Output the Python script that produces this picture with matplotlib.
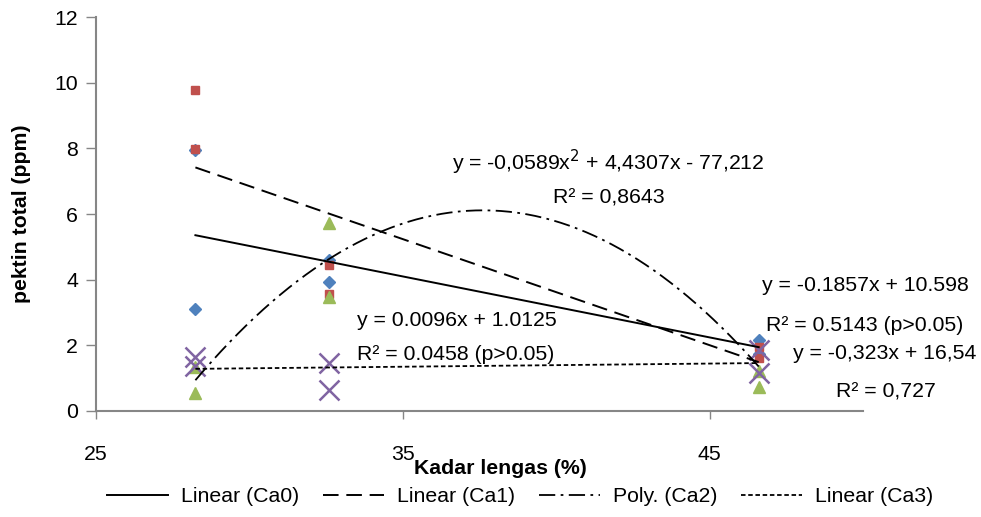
import matplotlib
matplotlib.use("Agg")
import matplotlib.pyplot as plt
import numpy as np

plt.rcParams['font.family'] = ['Liberation Sans', 'DejaVu Sans']

# ---- data ----
x_ca = [28.24, 28.24, 32.6, 32.6, 46.6, 46.6]
ca0 = [7.95, 3.10, 4.60, 3.93, 2.16, 1.75]
ca1 = [9.78, 7.98, 4.45, 3.55, 1.95, 1.60]
ca2 = [0.55, 1.34, 5.73, 3.47, 1.22, 0.73]
ca3 = [1.65, 1.37, 1.46, 0.64, 1.85, 1.15]

# trendline coefficients as printed on the chart (highest power first)
coef_ca0 = [-0.1857, 10.598]
coef_ca1 = [-0.323, 16.54]
coef_ca2 = [-0.0589, 4.4307, -77.212]
coef_ca3 = [0.0096, 1.0125]

legend_labels = ['Linear (Ca0)', 'Linear (Ca1)', 'Poly. (Ca2)', 'Linear (Ca3)']
x_ticks = [25, 35, 45]
y_ticks = [0, 2, 4, 6, 8, 10, 12]

eq_texts = [
    ('y = -0,0589x$^2$ + 4,4307x - 77,212', 36.60, 7.58),
    ('R² = 0,8643', 39.90, 6.49),
    ('y = 0.0096x + 1.0125', 33.51, 2.77),
    ('R² = 0.0458 (p>0.05)', 33.51, 1.71),
    ('y = -0.1857x + 10.598', 46.71, 3.81),
    ('R² = 0.5143 (p>0.05)', 46.84, 2.59),
    ('y = -0,323x + 16,54', 47.72, 1.74),
    ('R² = 0,727', 49.12, 0.58),
]

FS = 15.3

# ---- figure ----
W, H = 981, 517
fig = plt.figure(figsize=(W / 100, H / 100), dpi=100)
ax = fig.add_axes([96 / W, (H - 411) / H, (863 - 96) / W, (411 - 17) / H])

blue = '#4F81BD'
red = '#C0504D'
green = '#9BBB59'
purple = '#8064A2'

ax.plot(x_ca, ca0, 'D', color=blue, ms=6.5, mec=blue, zorder=3)
ax.plot(x_ca, ca1, 's', color=red, ms=6, mec=red, zorder=3)
ax.plot(x_ca, ca2, '^', color=green, ms=8.5, mec=green, zorder=3)
ax.plot(x_ca, ca3, 'x', color=purple, ms=15, mew=1.8, zorder=3)

xs = np.linspace(min(x_ca), max(x_ca), 200)
h0, = ax.plot(xs, np.polyval(coef_ca0, xs), color='black', lw=1.4, ls='-', zorder=4)
h1, = ax.plot(xs, np.polyval(coef_ca1, xs), color='black', lw=1.4, ls=(0, (8, 4)), zorder=4)
h2, = ax.plot(xs, np.polyval(coef_ca2, xs), color='black', lw=1.3, ls=(0, (9, 3, 1.5, 3)), zorder=4)
h3, = ax.plot(xs, np.polyval(coef_ca3, xs), color='black', lw=1.3, ls=(0, (2.5, 1.5)), zorder=4)

for txt, tx, ty in eq_texts:
    ax.text(tx, ty, txt, fontsize=FS, ha='left', va='center', color='black')

ax.set_xlim(25, 50)
ax.set_ylim(0, 12)
ax.set_xticks(x_ticks)
ax.set_yticks(y_ticks)
ax.tick_params(axis='x', direction='out', length=6, width=1, color='#868686', pad=18.5, labelsize=FS)
ax.tick_params(axis='y', direction='out', length=7, width=1, color='#868686', pad=6, labelsize=FS)
for s in ['top', 'right']:
    ax.spines[s].set_visible(False)
for s in ['left', 'bottom']:
    ax.spines[s].set_color('#868686')
    ax.spines[s].set_linewidth(1.5)

ax.set_xlabel('Kadar lengas (%)', fontsize=FS, fontweight='bold')
ax.xaxis.set_label_coords((500 - 96) / 767, (411 - 459) / 394)
ax.set_ylabel('pektin total (ppm)', fontsize=FS, fontweight='bold')
ax.yaxis.set_label_coords((31 - 96) / 767, 0.5)

fig.legend([h0, h1, h2, h3], legend_labels, loc='center', ncol=4,
           bbox_to_anchor=(520 / W, 1 - 497 / H), frameon=False, fontsize=FS,
           handlelength=2.9, columnspacing=1.1, handletextpad=0.6)

fig.savefig('out.png', dpi=100)
